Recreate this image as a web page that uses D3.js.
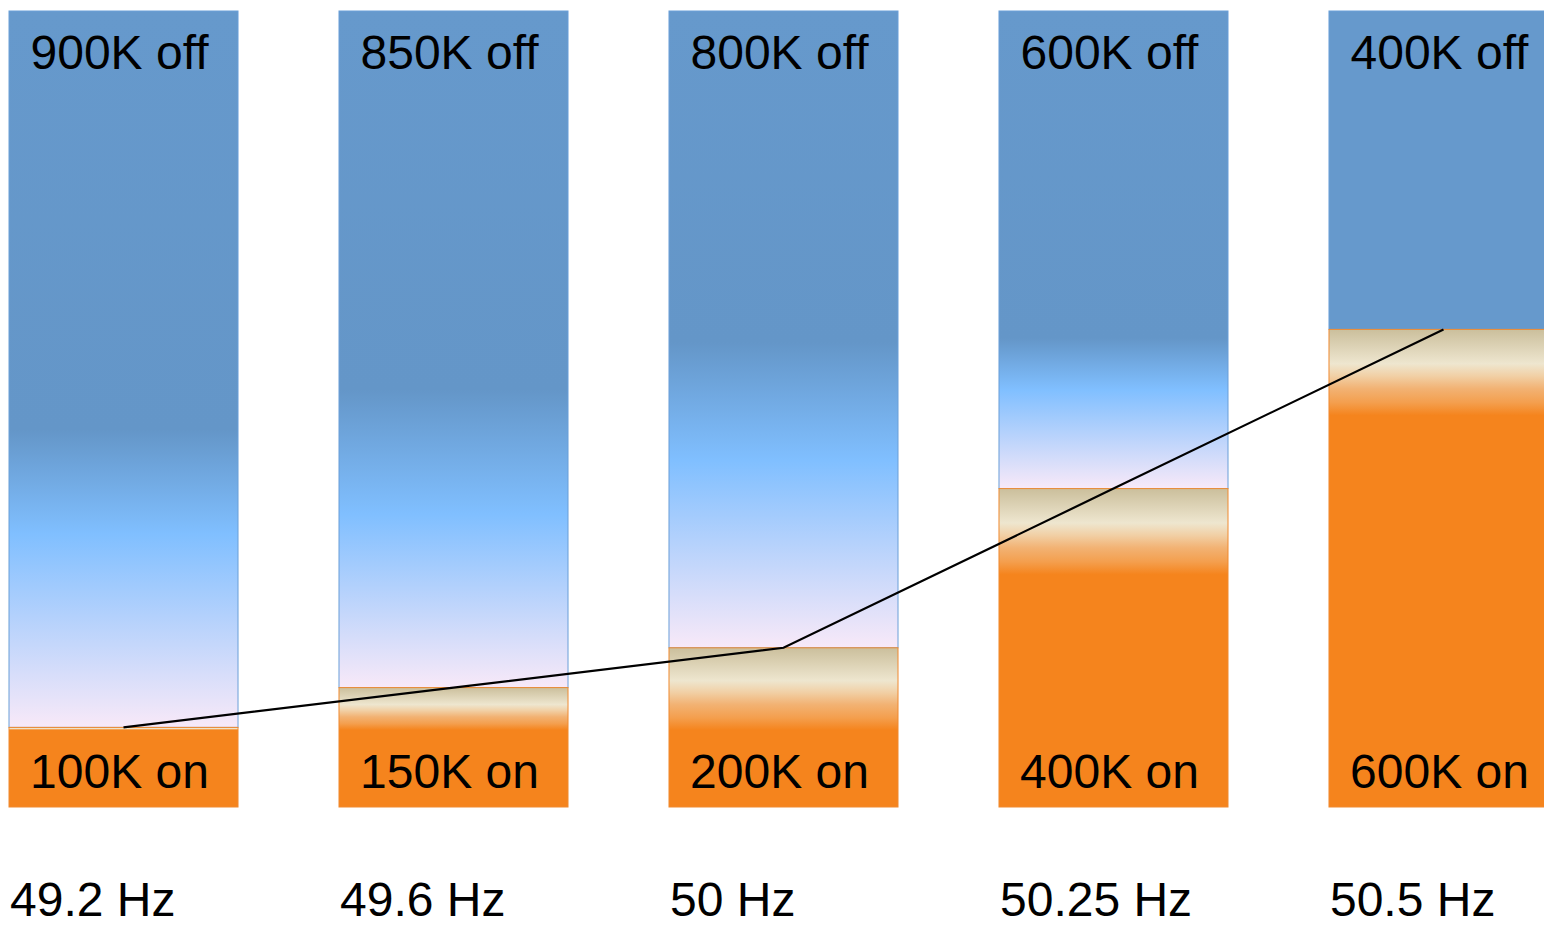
<!DOCTYPE html>
<html>
<head>
<meta charset="utf-8">
<script src="https://cdn.jsdelivr.net/npm/d3@7"></script>
<style>
  html, body { margin: 0; padding: 0; background: #ffffff; }
  svg { display: block; }
  text { font-family: "Liberation Sans", Arial, Helvetica, sans-serif; fill: #000; }
</style>
</head>
<body>
<svg id="chart" width="1544" height="927"></svg>
<script>
// ---- data ----
const frequencies = ["49.2 Hz", "49.6 Hz", "50 Hz", "50.25 Hz", "50.5 Hz"];
const onValues  = [100, 150, 200, 400, 600];   // thousands switched on
const offValues = [900, 850, 800, 600, 400];   // thousands switched off
const totalMax = 1000;

// ---- style (not data) ----
const plotTop = 11, plotBottom = 807;
const C_BLUE = "#6699cc", C_BLUE_DARK = "#6496c8", C_SKY = "#80bfff", C_PINK = "#f8e9f8";
const C_ORANGE = "#f5841d";
// gradient knee positions (fraction of off-segment height) per bar; null = solid
const offGrad = [[0.585, 0.73], [0.56, 0.744], [0.52, 0.706], [0.685, 0.793], null];
const onBandStops = [
  [0.00, "#cbbf9c"], [0.40, "#eee6cf"], [0.54, "#f1d0a6"],
  [0.69, "#f2b273"], [0.85, "#f49f4e"], [1.00, C_ORANGE]
];

const svg = d3.select("#chart");
const defs = svg.append("defs");

const x = d3.scaleBand().domain(frequencies).range([9, 1558]).paddingInner(0.306).paddingOuter(0);
const y = d3.scaleLinear().domain([0, totalMax]).range([plotBottom, plotTop]);

const rows = frequencies.map((f, i) => ({ f, i, on: onValues[i], off: offValues[i] }));
const bandOf = d => Math.min(86, Math.max(0, (y(0) - y(d.on)) - 77));

// gradients
rows.forEach(d => {
  const g = offGrad[d.i];
  if (g) {
    const lg = defs.append("linearGradient").attr("id", "off" + d.i)
      .attr("x1", 0).attr("y1", 0).attr("x2", 0).attr("y2", 1);
    [[0, C_BLUE], [g[0], C_BLUE_DARK], [g[1], C_SKY], [1, C_PINK]].forEach(s =>
      lg.append("stop").attr("offset", s[0]).attr("stop-color", s[1]));
  }
  const h = y(0) - y(d.on);
  const band = bandOf(d);
  if (band > 0) {
    const lg = defs.append("linearGradient").attr("id", "on" + d.i)
      .attr("x1", 0).attr("y1", 0).attr("x2", 0).attr("y2", 1);
    onBandStops.forEach(s =>
      lg.append("stop").attr("offset", (s[0] * band / h)).attr("stop-color", s[1]));
    lg.append("stop").attr("offset", 1).attr("stop-color", C_ORANGE);
  }
});

const bars = svg.append("g").selectAll("g").data(rows).join("g");

// off segment (top)
bars.append("rect")
  .attr("x", d => x(d.f))
  .attr("width", x.bandwidth())
  .attr("y", d => y(d.on + d.off))
  .attr("height", d => y(d.on) - y(d.on + d.off))
  .attr("fill", d => offGrad[d.i] ? `url(#off${d.i})` : C_BLUE)
  .attr("stroke", "#6a9fd8").attr("stroke-width", 1);

// on segment (bottom)
bars.append("rect")
  .attr("x", d => x(d.f))
  .attr("width", x.bandwidth())
  .attr("y", d => y(d.on))
  .attr("height", d => y(0) - y(d.on))
  .attr("fill", d => bandOf(d) > 0 ? `url(#on${d.i})` : C_ORANGE)
  .attr("stroke", "#f08a30").attr("stroke-width", 1);

// labels inside bars
bars.append("text")
  .attr("x", d => x(d.f) + x.bandwidth() / 2 - 4)
  .attr("y", y(totalMax) + 58)
  .attr("text-anchor", "middle")
  .attr("font-size", 48)
  .text(d => `${d.off}K off`);

bars.append("text")
  .attr("x", d => x(d.f) + x.bandwidth() / 2 - 4)
  .attr("y", y(0) - 19)
  .attr("text-anchor", "middle")
  .attr("font-size", 48)
  .text(d => `${d.on}K on`);

// frequency labels
svg.append("g").selectAll("text").data(rows).join("text")
  .attr("x", d => x(d.f) + 1)
  .attr("y", 916)
  .attr("font-size", 48)
  .text(d => d.f);

// connecting line
const line = d3.line()
  .x(d => x(d.f) + x.bandwidth() / 2)
  .y(d => y(d.on));
svg.append("path")
  .datum(rows)
  .attr("d", line)
  .attr("fill", "none")
  .attr("stroke", "#000")
  .attr("stroke-width", 2.2);
</script>
</body>
</html>
